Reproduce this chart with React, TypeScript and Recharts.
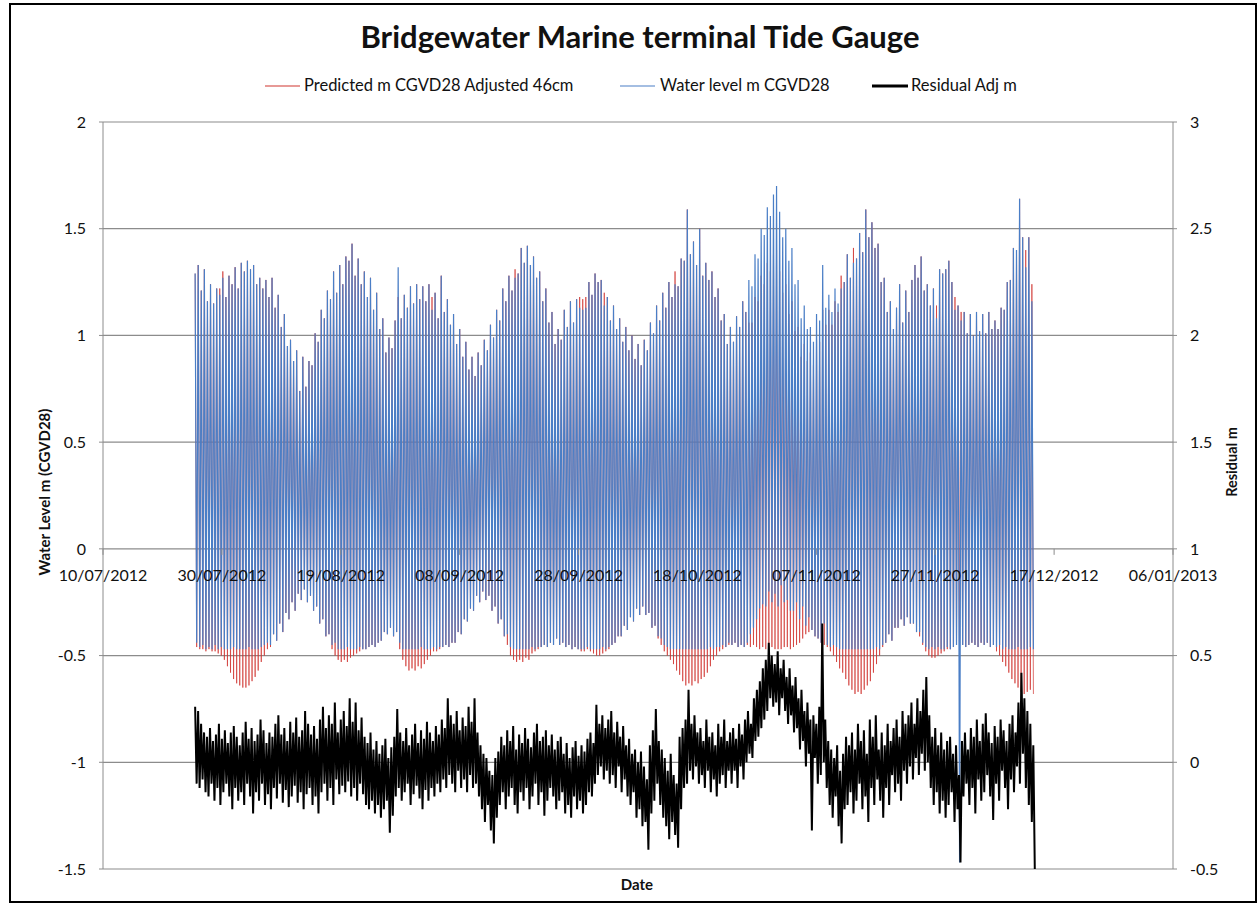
import React from 'react';
import { LineChart, Line, XAxis, YAxis, CartesianGrid } from 'recharts';

// ---------------- data ----------------
// x axis: days since 10/07/2012
const xTickDays = [0, 20, 40, 60, 80, 100, 120, 140, 160, 180];
const xTickLabels = ['10/07/2012', '30/07/2012', '19/08/2012', '08/09/2012', '28/09/2012', '18/10/2012', '07/11/2012', '27/11/2012', '17/12/2012', '06/01/2013'];
const leftTicks = [-1.5, -1, -0.5, 0, 0.5, 1, 1.5, 2];
const rightTicks = [-0.5, 0, 0.5, 1, 1.5, 2, 2.5, 3];

// tide records: one high and one low per tidal cycle (12.42 h), first high 25/07/2012 12:00
const TIDE_START_DAY = 15.5;
const TIDE_CYCLE_DAYS = 12.42 / 24;

// Water level m CGVD28 (cm)
const observedHighCm = [
  129, 133, 121, 131, 116, 124, 115, 122, 119, 127,
  118, 128, 124, 132, 122, 134, 130, 135, 131, 133,
  124, 127, 122, 126, 118, 127, 113, 119, 104, 110,
  95, 98, 88, 93, 74, 90, 76, 88, 86, 101,
  97, 112, 108, 121, 117, 130, 120, 133, 124, 137,
  135, 143, 128, 136, 124, 130, 118, 127, 112, 120,
  103, 108, 92, 99, 94, 107, 132, 108, 119, 113,
  123, 115, 124, 117, 123, 116, 124, 112, 120, 108,
  128, 111, 117, 105, 110, 96, 103, 90, 97, 84,
  90, 81, 92, 86, 98, 93, 105, 99, 112, 107,
  122, 116, 128, 121, 127, 129, 141, 134, 142, 133,
  137, 127, 130, 116, 122, 106, 111, 96, 103, 98,
  112, 104, 116, 106, 117, 113, 112, 113, 125, 119,
  129, 125, 126, 114, 118, 107, 114, 103, 108, 97,
  104, 93, 100, 89, 96, 86, 98, 93, 106, 101,
  114, 107, 120, 113, 125, 118, 124, 123, 136, 135,
  159, 138, 144, 133, 150, 128, 134, 126, 130, 118,
  122, 107, 110, 96, 104, 97, 109, 104, 116, 111,
  126, 123, 138, 136, 150, 147, 160, 156, 166, 170,
  158, 146, 150, 135, 141, 124, 126, 108, 114, 103,
  104, 97, 110, 107, 133, 113, 119, 111, 122, 115,
  122, 125, 138, 127, 134, 136, 148, 139, 159, 146,
  153, 141, 143, 125, 127, 111, 116, 103, 113, 124,
  106, 121, 111, 126, 133, 127, 137, 121, 124, 114,
  122, 108, 131, 129, 131, 135, 125, 112, 114, 107,
  111, 101, 110, 100, 111, 102, 110, 101, 111, 103,
  107, 103, 113, 112, 125, 126, 141, 140, 164, 146,
  132, 146, 116,
];
const observedLowCm = [
  -44, -46, -45, -47, -46, -47, -45, -47, -46, -47,
  -47, -47, -46, -47, -47, -47, -47, -46, -47, -47,
  -47, -46, -45, -44, -45, -40, -43, -35, -39, -30,
  -33, -25, -29, -21, -24, -19, -25, -22, -29, -27,
  -35, -33, -41, -40, -45, -44, -47, -47, -47, -46,
  -47, -47, -47, -46, -47, -47, -46, -45, -46, -44,
  -43, -39, -40, -37, -41, -39, -44, -47, -47, -47,
  -47, -47, -47, -46, -47, -47, -47, -46, -47, -46,
  -46, -45, -46, -44, -44, -39, -40, -33, -34, -28,
  -29, -22, -25, -20, -24, -22, -29, -27, -35, -33,
  -41, -40, -46, -47, -47, -47, -47, -47, -47, -46,
  -47, -46, -46, -45, -46, -44, -45, -42, -45, -44,
  -46, -45, -47, -46, -47, -47, -47, -46, -47, -47,
  -47, -47, -46, -47, -46, -45, -44, -41, -41, -36,
  -38, -32, -34, -28, -31, -27, -31, -30, -37, -36,
  -41, -42, -45, -46, -47, -47, -47, -47, -47, -47,
  -47, -47, -47, -47, -47, -47, -47, -46, -47, -46,
  -46, -45, -46, -44, -45, -44, -46, -45, -46, -44,
  -40, -37, -33, -28, -26, -27, -20, -25, -21, -27,
  -17, -25, -24, -29, -29, -25, -33, -27, -36, -32,
  -38, -41, -42, -44, -35, -45, -46, -45, -46, -47,
  -47, -47, -47, -47, -47, -47, -47, -47, -47, -47,
  -47, -46, -47, -45, -44, -40, -43, -37, -37, -33,
  -36, -32, -35, -35, -39, -39, -44, -46, -47, -46,
  -47, -46, -47, -47, -46, -47, -46, -45, -147, -45,
  -46, -45, -44, -45, -46, -44, -45, -44, -46, -45,
  -46, -45, -47, -46, -47, -47, -47, -46, -47, -47,
  -47, -46, -47,
];

// Predicted m CGVD28 Adjusted 46cm (cm)
const predictedHighCm = [
  129, 133, 121, 131, 116, 124, 115, 122, 122, 130,
  118, 128, 124, 132, 122, 134, 130, 135, 131, 133,
  124, 127, 122, 126, 118, 127, 113, 119, 104, 110,
  95, 98, 88, 93, 74, 90, 76, 88, 86, 101,
  97, 112, 108, 121, 117, 130, 120, 133, 124, 137,
  135, 143, 128, 136, 124, 130, 118, 127, 112, 120,
  103, 108, 92, 99, 94, 107, 118, 108, 119, 113,
  123, 115, 124, 117, 123, 116, 124, 118, 120, 108,
  128, 111, 117, 105, 110, 96, 103, 90, 97, 84,
  90, 81, 92, 86, 98, 93, 105, 99, 112, 107,
  122, 116, 128, 121, 131, 129, 141, 134, 142, 133,
  137, 127, 130, 116, 122, 106, 111, 96, 103, 98,
  112, 104, 116, 106, 117, 118, 117, 118, 125, 119,
  129, 125, 126, 120, 118, 107, 114, 103, 108, 97,
  104, 93, 100, 89, 96, 86, 98, 93, 106, 101,
  114, 107, 120, 113, 125, 118, 130, 123, 136, 135,
  159, 138, 144, 133, 150, 128, 134, 126, 130, 118,
  122, 107, 110, 96, 104, 97, 109, 104, 116, 111,
  106, 106, 118, 116, 128, 124, 134, 130, 138, 140,
  130, 120, 124, 110, 116, 102, 104, 90, 96, 88,
  92, 86, 98, 97, 112, 105, 112, 105, 116, 111,
  128, 125, 138, 127, 141, 136, 148, 139, 159, 146,
  153, 141, 143, 125, 127, 111, 116, 103, 113, 124,
  106, 121, 111, 126, 133, 127, 137, 121, 124, 114,
  122, 114, 131, 129, 131, 135, 125, 118, 114, 111,
  111, 101, 110, 100, 111, 102, 110, 101, 111, 103,
  107, 103, 113, 112, 125, 126, 141, 140, 164, 146,
  140, 146, 124,
];
const predictedLowCm = [
  -46, -47, -47, -48, -47, -48, -48, -49, -50, -52,
  -55, -58, -61, -63, -64, -65, -65, -64, -62, -60,
  -57, -53, -50, -47, -46, -40, -43, -35, -39, -30,
  -33, -25, -29, -21, -24, -19, -25, -22, -29, -27,
  -35, -33, -41, -40, -47, -50, -52, -53, -52, -53,
  -51, -50, -49, -48, -47, -47, -46, -45, -46, -44,
  -43, -39, -40, -37, -41, -39, -47, -52, -55, -57,
  -56, -57, -55, -56, -54, -52, -50, -48, -48, -47,
  -46, -45, -46, -44, -44, -39, -40, -33, -34, -28,
  -29, -22, -25, -20, -24, -22, -29, -27, -35, -33,
  -41, -45, -50, -52, -53, -52, -53, -51, -52, -49,
  -48, -47, -46, -45, -46, -44, -45, -42, -45, -44,
  -46, -45, -47, -46, -47, -48, -48, -47, -48, -49,
  -50, -50, -49, -48, -47, -45, -44, -41, -41, -36,
  -38, -32, -34, -28, -31, -27, -31, -30, -37, -36,
  -42, -45, -48, -50, -52, -54, -57, -59, -62, -64,
  -63, -64, -62, -63, -61, -60, -58, -55, -52, -50,
  -48, -47, -46, -45, -45, -44, -46, -45, -46, -45,
  -46, -45, -46, -47, -46, -47, -47, -46, -47, -47,
  -47, -46, -46, -47, -46, -45, -44, -42, -40, -39,
  -38, -41, -42, -44, -45, -46, -48, -50, -53, -56,
  -58, -61, -64, -66, -68, -67, -68, -66, -64, -62,
  -58, -54, -50, -46, -44, -40, -43, -37, -37, -33,
  -36, -32, -35, -35, -39, -41, -45, -48, -50, -51,
  -51, -50, -49, -48, -47, -47, -46, -45, -45, -45,
  -46, -45, -44, -45, -46, -44, -45, -44, -46, -45,
  -48, -50, -53, -55, -58, -61, -63, -65, -67, -68,
  -67, -66, -68,
];

// Residual Adj m (cm): highest and lowest value in each 12 h slot from 25/07/2012 12:00
const RESIDUAL_START_DAY = 15.5;
const RESIDUAL_SLOT_DAYS = 0.5;
const residualMaxCm = [
  26, 24, 18, 14, 12, 16, 10, 13, 18, 11,
  15, 9, 14, 17, 12, 8, 14, 19, 11, 16,
  10, 13, 20, 15, 9, 14, 12, 18, 22, 13,
  16, 10, 19, 14, 21, 12, 15, 24, 18, 13,
  17, 11, 20, 26, 16, 22, 18, 28, 14, 20,
  24, 17, 30, 19, 28, 15, 21, 12, 9, 14,
  6, 10, 4, 8, 11, 2, 7, 12, 25, 14,
  10, 16, 8, 13, 18, 9, 15, 11, 19, 14,
  10, 17, 13, 20, 16, 30, 22, 18, 24, 15,
  21, 17, 26, 19, 30, 14, 8, 4, 2, -4,
  -6, 2, 5, 12, 8, 15, 10, 17, 6, 13,
  9, 16, 11, 7, 14, 18, 10, 12, 15, 8,
  13, 6, 10, 12, 4, 9, 2, 7, 10, 3,
  8, 5, 11, 14, 9, 27, 18, 22, 16, 20,
  24, 14, 19, 12, 17, 8, 11, 4, 6, 0,
  5, -2, -8, 8, 15, 25, 10, 6, 2, -4,
  4, -6, -10, 12, 16, 20, 34, 18, 22, 14,
  16, 10, 20, 12, 14, 8, 18, 12, 20, 10,
  14, 16, 11, 18, 13, 20, 24, 18, 30, 34,
  38, 44, 48, 56, 50, 46, 52, 44, 48, 40,
  44, 36, 40, 30, 34, 24, 28, 20, 22, 18,
  26, 65, 20, 10, 6, 2, 8, -4, 4, 12,
  8, 14, 6, 18, 10, 15, 4, 20, 12, 22,
  6, 14, 8, 18, 10, 16, 20, 12, 24, 18,
  22, 28, 18, 30, 24, 34, 40, 22, 12, 16,
  8, 14, 6, 10, 12, 4, 8, -6, 10, 14,
  6, 16, 12, 20, 10, 18, 23, 14, 9, 17,
  12, 20, 15, 10, 18, 22, 14, 28, 42, 30,
  24, 18, 8,
];
const residualMinCm = [
  -10, -12, -8, -14, -16, -10, -18, -12, -20, -14,
  -10, -16, -22, -12, -18, -14, -20, -10, -16, -24,
  -14, -18, -10, -20, -15, -22, -12, -17, -10, -19,
  -13, -21, -16, -11, -19, -14, -22, -15, -12, -20,
  -16, -24, -14, -10, -18, -12, -20, -8, -15, -11,
  -14, -9, -16, -12, -18, -10, -15, -20, -22, -18,
  -24, -20, -26, -22, -18, -33, -25, -16, -12, -18,
  -14, -10, -20, -15, -11, -17, -22, -13, -18, -12,
  -16, -10, -14, -8, -12, -6, -10, -14, -4, -12,
  -8, -14, -6, -12, -10, -16, -22, -28, -20, -32,
  -38, -26, -20, -14, -22, -16, -12, -20, -24, -14,
  -18, -12, -22, -16, -10, -20, -14, -25, -18, -12,
  -16, -22, -18, -14, -24, -20, -26, -16, -22, -18,
  -24, -20, -14, -16, -10, -6, -2, -8, -4, -10,
  -6, -12, -2, -14, -8, -16, -20, -14, -26, -22,
  -30, -28, -41, -24, -18, -10, -20, -26, -30, -36,
  -28, -34, -40, -22, -12, -10, -4, -8, -2, -10,
  -6, -12, -4, -14, -8, -16, -10, -6, -12, -4,
  -10, -4, -12, -2, -8, 0, 4, 2, 10, 12,
  16, 20, 24, 30, 26, 28, 22, 30, 24, 18,
  22, 14, 16, 6, 10, -2, 4, -32, 2, -10,
  -6, 0, -12, -20, -26, -16, -30, -38, -22, -20,
  -14, -24, -18, -10, -22, -16, -28, -12, -20, -8,
  -18, -26, -12, -20, -6, -14, -10, -18, -4, -10,
  -2, -8, 2, -6, 4, -4, 0, -12, -20, -14,
  -24, -18, -26, -20, -14, -28, -22, -47, -16, -10,
  -20, -12, -24, -8, -18, -14, -6, -16, -27, -10,
  -18, -4, -12, -22, -8, -14, -2, -10, 4, -12,
  -20, -28, -50,
];

// ---------------- build series ----------------
type Pt = { t: number; v: number };
function tideSeries(highs: number[], lows: number[]): Pt[] {
  const pts: Pt[] = [];
  highs.forEach((h, k) => {
    const t = TIDE_START_DAY + k * TIDE_CYCLE_DAYS;
    pts.push({ t, v: h / 100 });
    pts.push({ t: t + TIDE_CYCLE_DAYS / 2, v: lows[k] / 100 });
  });
  return pts;
}
const observedData = tideSeries(observedHighCm, observedLowCm);
const predictedData = tideSeries(predictedHighCm, predictedLowCm);
const residualData: Pt[] = [];
residualMaxCm.forEach((mx, j) => {
  const t = RESIDUAL_START_DAY + j * RESIDUAL_SLOT_DAYS;
  residualData.push({ t, v: mx / 100 });
  residualData.push({ t: t + RESIDUAL_SLOT_DAYS / 2, v: residualMinCm[j] / 100 });
});

// ---------------- layout / style ----------------
const FONT = "Lato, 'Open Sans', 'DejaVu Sans', sans-serif";
const W = 1259;
const H = 904;
const MARGIN = { top: 122, right: 26, bottom: 5, left: 43 };
const Y_AXIS_W = 60;
const X_AXIS_H = 30;
const PLOT_H = H - MARGIN.top - MARGIN.bottom - X_AXIS_H;
const LEFT_MIN = -1.5;
const LEFT_MAX = 2;
const ZERO_Y = MARGIN.top + (PLOT_H * LEFT_MAX) / (LEFT_MAX - LEFT_MIN);
const GRID = '#8c8c8c';
const TEXT = '#111';
const RED = '#d0342f';
const BLUE = '#4a7ec6';

function DateTick(props: any) {
  const { x, payload } = props;
  const i = xTickDays.indexOf(payload.value);
  return (
    <g>
      <line x1={x} x2={x} y1={ZERO_Y} y2={ZERO_Y + 6} stroke={GRID} strokeWidth={1} />
      <text x={x} y={ZERO_Y + 32} textAnchor="middle" fontSize={16} fontFamily={FONT} fill={TEXT}>
        {i >= 0 ? xTickLabels[i] : ''}
      </text>
    </g>
  );
}

export default function App() {
  const tickStyle = { fill: TEXT, fontSize: 16, fontFamily: FONT };
  return (
    <div style={{ position: 'absolute', left: 0, top: 0, width: W, height: H, background: '#fff' }}>
      <LineChart width={W} height={H} margin={MARGIN}>
        <CartesianGrid yAxisId="left" vertical={false} stroke={GRID} strokeWidth={1.2} />
        <XAxis
          dataKey="t"
          type="number"
          domain={[xTickDays[0], xTickDays[xTickDays.length - 1]]}
          ticks={xTickDays}
          interval={0}
          allowDataOverflow
          axisLine={false}
          tickLine={false}
          height={X_AXIS_H}
          tick={DateTick}
        />
        <YAxis
          yAxisId="left"
          orientation="left"
          width={Y_AXIS_W}
          domain={[LEFT_MIN, LEFT_MAX]}
          ticks={leftTicks}
          interval={0}
          allowDataOverflow
          axisLine={{ stroke: GRID }}
          tickLine={{ stroke: GRID }}
          tickSize={4}
          tickMargin={13}
          tick={tickStyle}
        />
        <YAxis
          yAxisId="right"
          orientation="right"
          width={Y_AXIS_W}
          domain={[rightTicks[0], rightTicks[rightTicks.length - 1]]}
          ticks={rightTicks}
          interval={0}
          allowDataOverflow
          axisLine={{ stroke: GRID }}
          tickLine={{ stroke: GRID }}
          tickSize={4}
          tickMargin={13}
          tick={tickStyle}
        />
        <Line data={predictedData} dataKey="v" yAxisId="left" type="linear" stroke={RED} strokeWidth={0.7} dot={false} activeDot={false} isAnimationActive={false} name="Predicted m CGVD28 Adjusted 46cm" />
        <Line data={observedData} dataKey="v" yAxisId="left" type="linear" stroke={BLUE} strokeWidth={1.2} dot={false} activeDot={false} isAnimationActive={false} name="Water level m CGVD28" />
        <Line data={residualData} dataKey="v" yAxisId="right" type="linear" stroke="#000" strokeWidth={2} dot={false} activeDot={false} isAnimationActive={false} name="Residual Adj m" />
      </LineChart>

      <svg width={W} height={H} style={{ position: 'absolute', left: 0, top: 0, pointerEvents: 'none' }}>
        <text x={640} y={48} textAnchor="middle" fontSize={31} fontWeight="bold" fontFamily={FONT} fill={TEXT}>
          Bridgewater Marine terminal Tide Gauge
        </text>
        {/* legend */}
        <line x1={265} x2={300} y1={86} y2={86} stroke={RED} strokeWidth={1.2} />
        <text x={304} y={91} fontSize={16.5} fontFamily={FONT} fill={TEXT}>Predicted m CGVD28 Adjusted 46cm</text>
        <line x1={620} x2={655} y1={86} y2={86} stroke={BLUE} strokeWidth={1.2} />
        <text x={660} y={91} fontSize={16.5} fontFamily={FONT} fill={TEXT}>Water level m CGVD28</text>
        <line x1={872} x2={908} y1={86} y2={86} stroke="#000" strokeWidth={3} />
        <text x={911} y={91} fontSize={16.5} fontFamily={FONT} fill={TEXT}>Residual Adj m</text>
        {/* axis titles */}
        <text transform="translate(50,492) rotate(-90)" textAnchor="middle" fontSize={15} fontWeight="bold" fontFamily={FONT} fill={TEXT}>
          Water Level m (CGVD28)
        </text>
        <text transform="translate(1237,462) rotate(-90)" textAnchor="middle" fontSize={14.5} fontWeight="bold" fontFamily={FONT} fill={TEXT}>
          Residual m
        </text>
        <text x={637} y={890} textAnchor="middle" fontSize={15} fontWeight="bold" fontFamily={FONT} fill={TEXT}>
          Date
        </text>
      </svg>

      <div style={{ position: 'absolute', left: 9, top: 3, width: 1248, height: 900, border: '2px solid #000', boxSizing: 'border-box', pointerEvents: 'none' }} />
    </div>
  );
}
